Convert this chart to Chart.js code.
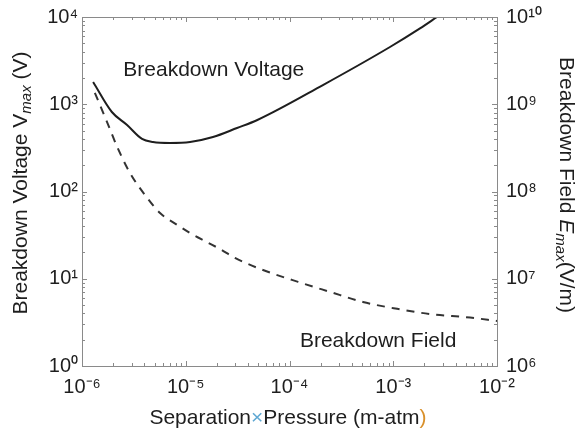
<!DOCTYPE html>
<html>
<head>
<meta charset="utf-8">
<script src="https://cdn.jsdelivr.net/npm/chart.js@4/dist/chart.umd.min.js"></script>
<style>
  html, body { margin: 0; padding: 0; background: #fff; }
  #wrap { width: 585px; height: 439px; }
</style>
</head>
<body>
<div id="wrap"><canvas id="chart"></canvas></div>
<script>
// separation x pressure (m-atm) and breakdown voltage (V)
const voltageX = [1.28e-6, 1.94e-6, 2.72e-6, 3.79e-6, 4.83e-6, 7.05e-6, 1.1e-5, 1.83e-5, 3.12e-5, 4.9e-5, 2.1e-4, 9.3e-4, 1.81e-3, 2.64e-3];
const voltageY = [1800, 815, 578, 400, 369, 360, 369, 421, 534, 660, 1660, 4530, 7400, 10000];

// separation x pressure (m-atm) and breakdown field (V/m)
const fieldX = [1.33e-6, 1.74e-6, 2.17e-6, 2.9e-6, 4.05e-6, 5.65e-6, 8.2e-6, 1.1e-5, 1.6e-5, 2.14e-5, 2.98e-5, 5.56e-5, 1.21e-4, 2.45e-4, 5.1e-4, 1.09e-3, 2.26e-3, 5.5e-3, 1e-2];
const fieldY = [1.35e9, 6.3e8, 3.3e8, 1.63e8, 9.1e7, 5.67e7, 4.17e7, 3.34e7, 2.63e7, 2.19e7, 1.73e7, 1.26e7, 9.2e6, 7.08e6, 5.42e6, 4.52e6, 3.94e6, 3.59e6, 3.28e6];

const xTicks = [1e-6, 1e-5, 1e-4, 1e-3, 1e-2];
const leftTicks = [1, 10, 100, 1000, 10000];
const rightTicks = [1e6, 1e7, 1e8, 1e9, 1e10];

const FONT = '"Liberation Sans", Arial, sans-serif';
const INK = '#1e1e1e';

const SUP = { '-': '⁻', '0': '⁰', '1': '¹', '2': '²', '3': '³', '4': '⁴', '5': '⁵', '6': '⁶', '7': '⁷', '8': '⁸', '9': '⁹' };
function pow10Label(v) {
  const e = String(Math.round(Math.log10(v)));
  return '10' + e.split('').map((c) => SUP[c]).join('');
}

function decadeTicks(list) {
  return (scale) => { scale.ticks = list.map((v) => ({ value: v })); };
}

// fixed axis sizes so the plot box lands where the reference has it
function fixSize(w, h) {
  return (s) => {
    if (w) s.width = w;
    if (h) s.height = h;
    s.paddingTop = 0; s.paddingBottom = 0; s.paddingLeft = 0; s.paddingRight = 0;
  };
}

// draw a line of text made of runs with different fonts / offsets
function drawRuns(ctx, runs, x, y, angle) {
  ctx.save();
  ctx.translate(x, y);
  ctx.rotate(angle);
  let total = 0;
  runs.forEach((r) => { ctx.font = r.font; r.w = ctx.measureText(r.text).width; total += r.w; });
  let cx = -total / 2;
  ctx.textBaseline = 'middle';
  ctx.textAlign = 'left';
  runs.forEach((r) => {
    ctx.font = r.font;
    ctx.fillStyle = r.color || INK;
    ctx.fillText(r.text, cx, r.dy || 0);
    cx += r.w;
  });
  ctx.restore();
}

const decor = {
  id: 'decor',
  afterDraw(chart) {
    const { ctx, chartArea: a, scales } = chart;
    ctx.save();
    // frame
    ctx.strokeStyle = '#8a8a8a';
    ctx.lineWidth = 1;
    ctx.strokeRect(a.left + 0.5, a.top + 0.5, a.right - a.left, a.bottom - a.top);
    // inward ticks
    ctx.beginPath();
    for (let d = -6; d < -2; d++) {
      for (let m = 1; m < 10; m++) {
        const px = Math.round(scales.x.getPixelForValue(m * Math.pow(10, d))) + 0.5;
        const len = m === 1 ? 5 : 3;
        ctx.moveTo(px, a.bottom); ctx.lineTo(px, a.bottom - len);
        ctx.moveTo(px, a.top); ctx.lineTo(px, a.top + len);
      }
    }
    for (let d = 0; d < 4; d++) {
      for (let m = 1; m < 10; m++) {
        const py = Math.round(scales.y.getPixelForValue(m * Math.pow(10, d))) + 0.5;
        const len = m === 1 ? 5 : 3;
        ctx.moveTo(a.left, py); ctx.lineTo(a.left + len, py);
        ctx.moveTo(a.right, py); ctx.lineTo(a.right - len, py);
      }
    }
    ctx.stroke();

    // curve labels
    ctx.fillStyle = INK;
    ctx.font = '21px ' + FONT;
    ctx.textBaseline = 'middle';
    ctx.textAlign = 'left';
    ctx.fillText('Breakdown Voltage', scales.x.getPixelForValue(2.5e-6), scales.y.getPixelForValue(2460));
    ctx.fillText('Breakdown Field', scales.x.getPixelForValue(1.26e-4), scales.y.getPixelForValue(1.93));

    // axis titles
    const big = '21px ' + FONT;
    const sub = 'italic 15px ' + FONT;
    drawRuns(ctx, [
      { text: 'Breakdown Voltage ', font: big },
      { text: 'V', font: big },
      { text: 'max', font: sub, dy: 6 },
      { text: ' (V)', font: big }
    ], 21, 183, -Math.PI / 2);
    drawRuns(ctx, [
      { text: 'Breakdown Field ', font: big },
      { text: 'E', font: 'italic 21px ' + FONT },
      { text: 'max', font: sub, dy: 6 },
      { text: '(V/m)', font: big }
    ], 566, 185, Math.PI / 2);
    drawRuns(ctx, [
      { text: 'Separation', font: big },
      { text: '×', font: big, color: '#5fa8d3' },
      { text: 'Pressure (m-atm', font: big },
      { text: ')', font: big, color: '#d9902a' }
    ], 288, 418, 0);
    ctx.restore();
  }
};

new Chart(document.getElementById('chart'), {
  type: 'scatter',
  data: {
    datasets: [
      {
        label: 'Breakdown Voltage',
        data: voltageX.map((x, i) => ({ x: x, y: voltageY[i] })),
        yAxisID: 'y',
        showLine: true,
        borderColor: INK,
        borderWidth: 2,
        pointRadius: 0,
        cubicInterpolationMode: 'monotone'
      },
      {
        label: 'Breakdown Field',
        data: fieldX.map((x, i) => ({ x: x, y: fieldY[i] })),
        yAxisID: 'y2',
        showLine: true,
        borderColor: '#333',
        borderWidth: 2,
        borderDash: [8, 7],
        pointRadius: 0,
        cubicInterpolationMode: 'monotone'
      }
    ]
  },
  options: {
    responsive: true,
    maintainAspectRatio: false,
    animation: false,
    layout: { padding: { top: 17, left: 0, right: 0, bottom: 0 } },
    plugins: { legend: { display: false }, tooltip: { enabled: false } },
    scales: {
      x: {
        type: 'logarithmic',
        min: 1e-6,
        max: 1e-2,
        afterBuildTicks: decadeTicks(xTicks),
        afterFit: fixSize(0, 73),
        grid: { display: false, drawTicks: false },
        border: { display: false },
        ticks: {
          color: INK,
          font: { family: FONT, size: 20 },
          padding: 9,
          maxRotation: 0,
          callback: (v) => pow10Label(v)
        }
      },
      y: {
        type: 'logarithmic',
        position: 'left',
        min: 1,
        max: 10000,
        afterBuildTicks: decadeTicks(leftTicks),
        afterFit: fixSize(82, 0),
        grid: { display: false, drawTicks: false },
        border: { display: false },
        ticks: {
          color: INK,
          font: { family: FONT, size: 20 },
          padding: 4,
          callback: (v) => pow10Label(v)
        }
      },
      y2: {
        type: 'logarithmic',
        position: 'right',
        min: 1e6,
        max: 1e10,
        afterBuildTicks: decadeTicks(rightTicks),
        afterFit: fixSize(88, 0),
        grid: { display: false, drawTicks: false },
        border: { display: false },
        ticks: {
          color: INK,
          font: { family: FONT, size: 20 },
          padding: 9,
          callback: (v) => pow10Label(v)
        }
      }
    }
  },
  plugins: [decor]
});
</script>
</body>
</html>
